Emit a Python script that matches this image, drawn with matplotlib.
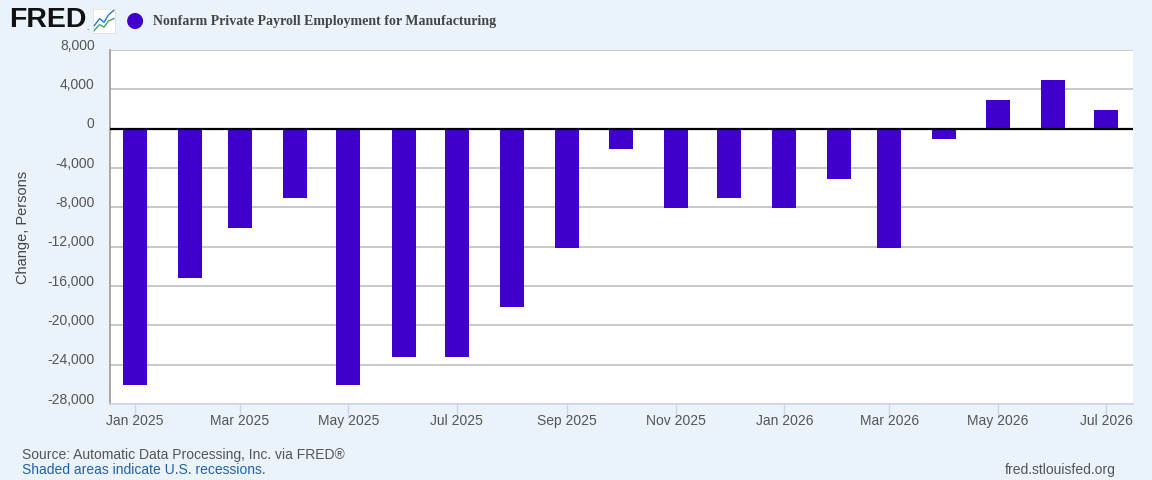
import datetime as dt
import matplotlib
matplotlib.use("Agg")
import matplotlib.pyplot as plt
import matplotlib.dates as mdates
from matplotlib.transforms import ScaledTranslation

# ---- data ----
months = ["2025-01", "2025-02", "2025-03", "2025-04", "2025-05", "2025-06",
          "2025-07", "2025-08", "2025-09", "2025-10", "2025-11", "2025-12",
          "2026-01", "2026-02", "2026-03", "2026-04", "2026-05", "2026-06",
          "2026-07"]
values = [-26100, -15200, -10100, -7100, -26100, -23200,
          -23200, -18100, -12100, -2100, -8100, -7100,
          -8100, -5100, -12100, -1100, 2900, 4900,
          1900]
ytick_vals = [8000, 4000, 0, -4000, -8000, -12000, -16000, -20000, -24000, -28000]
xtick_months = ["2025-01", "2025-03", "2025-05", "2025-07", "2025-09", "2025-11",
                "2026-01", "2026-03", "2026-05", "2026-07"]
title = "Nonfarm Private Payroll Employment for Manufacturing"
ylabel = "Change, Persons"

dates = [dt.datetime.strptime(m, "%Y-%m") for m in months]
xticks = [dt.datetime.strptime(m, "%Y-%m") for m in xtick_months]

BG = "#eaf2fa"
BAR = "#4000cc"

plt.rcParams['font.family'] = ['Liberation Sans', 'DejaVu Sans']

fig = plt.figure(figsize=(11.52, 4.8), dpi=100, facecolor=BG)
ax = fig.add_axes([110/1152, 1-404/480, (1133-110)/1152, (404-50)/480])
ax.set_facecolor("white")

ax.bar(dates, values, width=13.5, color=BAR, zorder=3)
ax.axhline(0, color="black", linewidth=1.6, zorder=4)

ax.set_ylim(-28000, 8000)
ax.set_xlim(dt.datetime(2024, 12, 18), dt.datetime(2026, 7, 16))

ax.set_yticks(ytick_vals)
ax.set_yticklabels([f"{v:,}" for v in ytick_vals])
ax.yaxis.grid(True, color="#c4c4c4", linewidth=1.3, zorder=1)
ax.tick_params(axis="y", length=0, pad=11, labelsize=10, labelcolor="#555555")
off = ScaledTranslation(0, 6/100, fig.dpi_scale_trans)
for lab in ax.get_yticklabels():
    lab.set_transform(lab.get_transform() + off)

ax.set_xticks(xticks)
ax.xaxis.set_major_formatter(mdates.DateFormatter("%b %Y"))
ax.tick_params(axis="x", length=10, width=1, color="#ccd6eb", pad=-2.5,
               labelsize=10, labelcolor="#555555")

for s in ["top", "right"]:
    ax.spines[s].set_visible(False)
ax.spines["left"].set_color("#999999")
ax.spines["left"].set_linewidth(1.2)
ax.spines["bottom"].set_color("#ccd6eb")
ax.spines["bottom"].set_linewidth(1.2)

fig.text(23/1152, 1-227/480, ylabel, rotation=90, ha="center", va="center",
         fontsize=10.5, color="#444444")

# header
fig.text(9/1152, 1-20/480, "FRED", fontsize=20.5, fontweight="bold",
         color="#111111", ha="left", va="center")
fig.text(86/1152, 1-29/480, ".", fontsize=6, color="#111111", ha="left", va="center")
icon = fig.add_axes([93/1152, 1-33/480, 22/1152, 24/480])
icon.set_facecolor("white")
icon.plot([0.05, 0.3, 0.5, 0.7, 0.95], [0.3, 0.6, 0.45, 0.75, 0.95], color="#2a77c9", lw=1)
icon.plot([0.05, 0.3, 0.5, 0.7, 0.95], [0.1, 0.35, 0.25, 0.5, 0.6], color="#3aa36b", lw=1)
icon.set_xlim(0, 1); icon.set_ylim(0, 1)
icon.set_xticks([]); icon.set_yticks([])
for s in icon.spines.values():
    s.set_color("#dddddd"); s.set_linewidth(0.5)

fig.text(135/1152, 1-20/480, "\u25CF", fontsize=15, color=BAR, ha="center",
         va="center", family=["DejaVu Sans"])
fig.text(153/1152, 1-21/480, title, fontsize=10, fontweight="bold",
         color="#444444", ha="left", va="center", family=["Liberation Serif"])

# footer
fig.text(22/1152, 1-455/480, "Source: Automatic Data Processing, Inc. via FRED\u00ae",
         fontsize=10, color="#555555", ha="left", va="center")
fig.text(22/1152, 1-470/480, "Shaded areas indicate U.S. recessions.",
         fontsize=10, color="#2361a8", ha="left", va="center")
fig.text(1116/1152, 1-470/480, "fred.stlouisfed.org",
         fontsize=10, color="#555555", ha="right", va="center")

fig.savefig("out.png", dpi=100, facecolor=BG)
